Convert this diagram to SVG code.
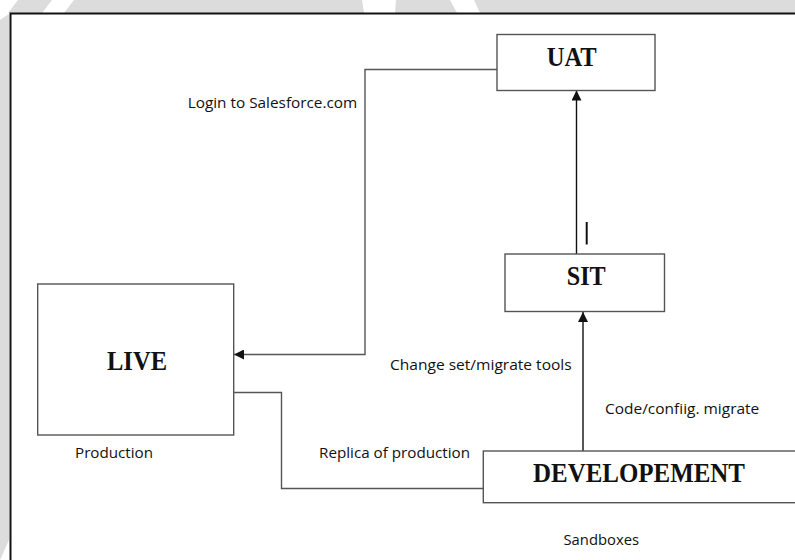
<svg xmlns="http://www.w3.org/2000/svg" width="795" height="560" viewBox="0 0 795 560">
<style>
.box{fill:#fff;stroke:#555;stroke-width:1.4}
.ttl{font-family:"Liberation Serif","Times New Roman",serif;font-weight:bold;font-size:28px;fill:#111;text-anchor:middle}
.lbl{font-family:"Open Sans","Liberation Sans",sans-serif;font-size:14.5px;fill:#111}
.con{fill:none;stroke:#555;stroke-width:1.4}
.arr{fill:none;stroke:#111;stroke-width:1.4}
.wm{fill:#dcdcdc}
</style>
<defs>
<marker id="ah" viewBox="0 0 10 10" refX="10" refY="5" markerWidth="10" markerHeight="10" markerUnits="userSpaceOnUse" orient="auto">
<path d="M0,0 L10,5 L0,10 z" fill="#111"/>
</marker>
</defs>
<rect width="795" height="560" fill="#fff"/>
<g id="watermark">
<polygon class="wm" points="8,13 18,0 52,0 42,13"/>
<polygon class="wm" points="64,13 74,0 362,0 364,13"/>
<polygon class="wm" points="395,13 396,0 450,0 457,13"/>
<polygon class="wm" points="480,13 474,0 795,0 795,13"/>
<polygon class="wm" points="0,20 9,14 9,540 0,560"/>
</g>
<g id="frame">
<path d="M10.5,560 V13.5 H795" fill="none" stroke="#111" stroke-width="2"/>
</g>
<g id="connectors">
<path class="con" d="M497,69.5 H365 V354.5 H234" marker-end="url(#ah)"/>
<path class="con" d="M234,392.5 H281.5 V488.5 H483"/>
<path class="arr" d="M583,451 V312" marker-end="url(#ah)"/>
<path class="arr" d="M576.5,254 V90.5" marker-end="url(#ah)"/>
<line x1="586.7" y1="222" x2="586.7" y2="244.5" stroke="#111" stroke-width="2"/>
</g>
<g id="uat">
<rect class="box" x="497" y="34.5" width="158" height="56"/>
<text class="ttl" x="571.7" y="65.5" textLength="50" lengthAdjust="spacingAndGlyphs">UAT</text>
</g>
<g id="sit">
<rect class="box" x="505" y="254" width="159.5" height="57.5"/>
<text class="ttl" x="586.2" y="284.5" textLength="39" lengthAdjust="spacingAndGlyphs">SIT</text>
</g>
<g id="live">
<rect class="box" x="37.7" y="284" width="196" height="151"/>
<text class="ttl" x="137" y="369.5" textLength="60" lengthAdjust="spacingAndGlyphs">LIVE</text>
<text class="lbl" x="75" y="457.5" textLength="78" lengthAdjust="spacingAndGlyphs">Production</text>
</g>
<g id="development">
<rect class="box" x="483.3" y="451" width="320" height="51.7"/>
<text class="ttl" x="639" y="481.5" textLength="212" lengthAdjust="spacingAndGlyphs">DEVELOPEMENT</text>
<text class="lbl" x="563.5" y="545" textLength="75.5" lengthAdjust="spacingAndGlyphs">Sandboxes</text>
</g>
<g id="labels">
<text class="lbl" x="187.7" y="108" textLength="169.6" lengthAdjust="spacingAndGlyphs">Login to Salesforce.com</text>
<text class="lbl" x="390" y="370" textLength="181.7" lengthAdjust="spacingAndGlyphs">Change set/migrate tools</text>
<text class="lbl" x="605" y="414.3" textLength="154.3" lengthAdjust="spacingAndGlyphs">Code/confiig. migrate</text>
<text class="lbl" x="319" y="457.5" textLength="151" lengthAdjust="spacingAndGlyphs">Replica of production</text>
</g>
</svg>
